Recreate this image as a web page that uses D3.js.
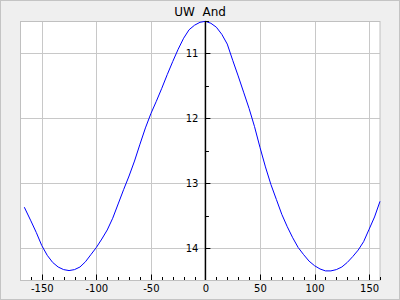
<!DOCTYPE html>
<html><head><meta charset="utf-8">
<script src="https://cdn.jsdelivr.net/npm/d3@7"></script>
<style>body{margin:0;background:#fff}svg{display:block}</style>
</head><body>
<svg id="c" width="400" height="300"></svg>
<script>
const title = "UW  And";
const phases = [-166,-160,-155,-150,-145,-140,-135,-130,-125,-120,-115,-110,-105,-100,-95,-90,-85,-80,-75,-70,-65,-60,-55,-50,-45,-40,-35,-30,-25,-20,-15,-10,-5,0,5,10,15,20,25,30,35,40,45,50,55,60,65,70,75,80,85,90,95,100,105,110,115,120,125,130,135,140,145,150,155,160];
const mags = [13.37,13.58,13.76,13.96,14.11,14.22,14.29,14.33,14.345,14.33,14.29,14.21,14.10,13.99,13.86,13.72,13.54,13.32,13.10,12.89,12.66,12.40,12.15,11.93,11.74,11.54,11.33,11.13,10.94,10.77,10.64,10.57,10.525,10.51,10.54,10.60,10.71,10.86,11.11,11.35,11.60,11.85,12.13,12.45,12.75,13.02,13.25,13.48,13.67,13.84,13.99,14.10,14.20,14.27,14.32,14.35,14.35,14.33,14.29,14.22,14.13,14.03,13.90,13.71,13.52,13.28];
const xTicks = [-150,-100,-50,0,50,100,150];
const yTicks = [11,12,13,14];

const svg = d3.select("#c");
const L=20.5, R=380, T=21, B=280;
const x = d3.scaleLinear().domain([-169.5,160]).range([L,R]);
const y = d3.scaleLinear().domain([10.505,14.49]).range([T,B]);
const font = "DejaVu Sans, sans-serif";

svg.append("rect").attr("x",0.5).attr("y",0.5).attr("width",399).attr("height",299)
  .attr("fill","#efefef").attr("stroke","#c4c4c4");
svg.append("rect").attr("x",L).attr("y",T).attr("width",R-L).attr("height",B-T)
  .attr("fill","#fff");

// grid
svg.append("g").selectAll("line").data(xTicks).join("line")
  .attr("x1",d=>Math.round(x(d))+0.5).attr("x2",d=>Math.round(x(d))+0.5)
  .attr("y1",T).attr("y2",B).attr("stroke","#c8c8c8");
svg.append("g").selectAll("line").data(yTicks).join("line")
  .attr("y1",d=>Math.round(y(d))+0.5).attr("y2",d=>Math.round(y(d))+0.5)
  .attr("x1",L).attr("x2",R).attr("stroke","#c8c8c8");

svg.append("rect").attr("x",L).attr("y",T+0.5).attr("width",R-L).attr("height",B-T)
  .attr("fill","none").attr("stroke","#c0c0c0");

// curve
const line = d3.line().x((d,i)=>x(phases[i])).y((d,i)=>y(mags[i]));
svg.append("path").datum(mags).attr("d",line).attr("fill","none")
  .attr("stroke","#0000ff").attr("stroke-width",1);

// x axis ticks (inward from bottom)
const xMinor = d3.range(-160,161,10).filter(v=>v%50!==0);
const gx = svg.append("g");
gx.selectAll("line.maj").data(xTicks).join("line").attr("class","maj")
  .attr("x1",d=>Math.round(x(d))+0.5).attr("x2",d=>Math.round(x(d))+0.5)
  .attr("y1",B-5.5).attr("y2",B).attr("stroke","#000");
gx.selectAll("line.min").data(xMinor).join("line").attr("class","min")
  .attr("x1",d=>Math.round(x(d))+0.5).attr("x2",d=>Math.round(x(d))+0.5)
  .attr("y1",B-3).attr("y2",B).attr("stroke","#000");
gx.selectAll("text").data(xTicks).join("text")
  .attr("x",d=>x(d)+0.5).attr("y",292).attr("text-anchor","middle")
  .attr("font-family",font).attr("font-size",10).attr("fill","#000").text(d=>d);

// y axis at x=0
const x0 = x(0);
const gy = svg.append("g");
gy.append("line").attr("x1",x0).attr("x2",x0).attr("y1",T).attr("y2",B)
  .attr("stroke","#000").attr("stroke-width",1.5);
gy.selectAll("line.maj").data(yTicks).join("line").attr("class","maj")
  .attr("x1",x0).attr("x2",x0+5).attr("y1",d=>Math.round(y(d))+0.5).attr("y2",d=>Math.round(y(d))+0.5)
  .attr("stroke","#000");
gy.selectAll("line.min").data([10.5,11.5,12.5,13.5]).join("line").attr("class","min")
  .attr("x1",x0).attr("x2",x0+3.5).attr("y1",d=>Math.round(y(d))+0.5).attr("y2",d=>Math.round(y(d))+0.5)
  .attr("stroke","#000");
gy.selectAll("text").data(yTicks).join("text")
  .attr("x",x0-7).attr("y",d=>y(d)+3.8).attr("text-anchor","end")
  .attr("font-family",font).attr("font-size",10).attr("fill","#000").text(d=>d);

svg.append("text").attr("x",200).attr("y",15.5).attr("text-anchor","middle")
  .attr("font-family",font).attr("font-size",12).attr("fill","#000")
  .style("white-space","pre").text(title);
</script>
</body></html>
